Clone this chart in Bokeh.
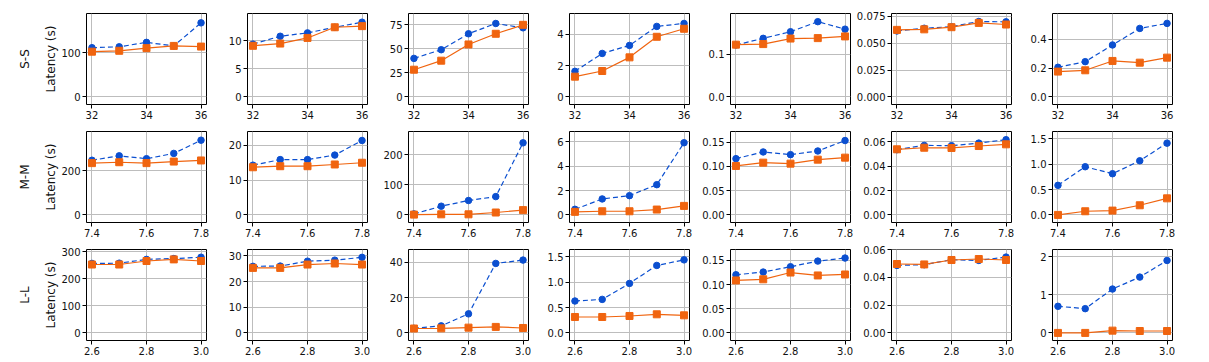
from bokeh.plotting import figure
from bokeh.layouts import gridplot
from bokeh.models import FixedTicker, Range1d, Title
from bokeh.embed import file_html
from bokeh.resources import INLINE

# ---------------- data ----------------
row_names = ["S-S", "M-M", "L-L"]
x_values = [[32, 33, 34, 35, 36], [7.4, 7.5, 7.6, 7.7, 7.8], [2.6, 2.7, 2.8, 2.9, 3.0]]
x_ticks = [[32, 34, 36], [7.4, 7.6, 7.8], [2.6, 2.8, 3.0]]
x_tick_labels = [["32", "34", "36"], ["7.4", "7.6", "7.8"], ["2.6", "2.8", "3.0"]]

blue_ss = [
    [111, 113, 123, 115, 167],
    [9.4, 10.8, 11.4, 12.4, 13.3],
    [40.1, 49.1, 65.7, 76.4, 71.9],
    [1.63, 2.77, 3.28, 4.49, 4.68],
    [0.122, 0.1375, 0.153, 0.1766, 0.159],
    [0.0615, 0.0640, 0.0655, 0.0703, 0.0700],
    [0.206, 0.245, 0.361, 0.476, 0.511],
]
orange_ss = [
    [102, 104, 110, 115, 113.5],
    [9.1, 9.5, 10.5, 12.4, 12.6],
    [28.3, 37.7, 54.6, 65.7, 75.0],
    [1.29, 1.65, 2.52, 3.83, 4.34],
    [0.1227, 0.124, 0.137, 0.138, 0.142],
    [0.0625, 0.0630, 0.0650, 0.0690, 0.0675],
    [0.176, 0.185, 0.250, 0.238, 0.273],
]
blue_mm = [
    [248, 268, 255, 279, 339],
    [14.3, 15.9, 15.9, 17.2, 21.4],
    [3.3, 29, 48, 61, 240],
    [0.46, 1.31, 1.58, 2.48, 5.92],
    [0.1158, 0.1295, 0.124, 0.1315, 0.153],
    [0.0536, 0.0571, 0.0569, 0.0590, 0.0618],
    [0.583, 0.95, 0.812, 1.067, 1.415],
]
orange_mm = [
    [235, 239, 235, 242, 247],
    [13.7, 14.0, 14.0, 14.5, 15.0],
    [1, 2, 2, 8, 16],
    [0.25, 0.30, 0.30, 0.44, 0.74],
    [0.1007, 0.1075, 0.1055, 0.1137, 0.1178],
    [0.0539, 0.0552, 0.0550, 0.0566, 0.0580],
    [0.0, 0.072, 0.085, 0.19, 0.327],
]
blue_ll = [
    [257, 258, 272, 275, 280],
    [25.9, 26.0, 27.9, 28.3, 29.4],
    [2.6, 4.0, 10.8, 39.4, 41.3],
    [0.629, 0.661, 0.976, 1.33, 1.44],
    [0.1204, 0.126, 0.137, 0.1487, 0.155],
    [0.0487, 0.0492, 0.0528, 0.0523, 0.0547],
    [0.699, 0.638, 1.153, 1.467, 1.904],
]
orange_ll = [
    [253, 253, 266, 272, 266],
    [25.3, 25.3, 26.6, 27.0, 26.6],
    [2.5, 2.6, 3.0, 3.4, 2.8],
    [0.314, 0.314, 0.334, 0.367, 0.347],
    [0.1087, 0.111, 0.125, 0.119, 0.121],
    [0.0497, 0.0494, 0.0526, 0.0533, 0.0526],
    [0.0, 0.0, 0.06, 0.05, 0.05],
]
blue_rows = [blue_ss, blue_mm, blue_ll]
orange_rows = [orange_ss, orange_mm, orange_ll]

y_ticks = [
    [[0, 100], [0, 5, 10], [0, 25, 50, 75], [0, 2, 4], [0.0, 0.1], [0.0, 0.025, 0.05, 0.075], [0.0, 0.2, 0.4]],
    [[0, 200], [0, 10, 20], [0, 100, 200], [0, 2, 4, 6], [0.0, 0.05, 0.1, 0.15], [0.0, 0.02, 0.04, 0.06], [0.0, 0.5, 1.0, 1.5]],
    [[0, 100, 200, 300], [0, 10, 20, 30], [0, 20, 40], [0.0, 0.5, 1.0, 1.5], [0.0, 0.05, 0.1, 0.15], [0.0, 0.02, 0.04, 0.06], [0, 1, 2]],
]
y_tick_labels = [
    [["0", "100"], ["0", "5", "10"], ["0", "25", "50", "75"], ["0", "2", "4"], ["0.0", "0.1"], ["0.000", "0.025", "0.050", "0.075"], ["0.0", "0.2", "0.4"]],
    [["0", "200"], ["0", "10", "20"], ["0", "100", "200"], ["0", "2", "4", "6"], ["0.00", "0.05", "0.10", "0.15"], ["0.00", "0.02", "0.04", "0.06"], ["0.0", "0.5", "1.0", "1.5"]],
    [["0", "100", "200", "300"], ["0", "10", "20", "30"], ["0", "20", "40"], ["0.0", "0.5", "1.0", "1.5"], ["0.00", "0.05", "0.10", "0.15"], ["0.00", "0.02", "0.04", "0.06"], ["0", "1", "2"]],
]
# upper data extent used for autoscaling each panel's y axis
y_extent = [
    [171, 13.5, 78.9, 4.83, 0.178, 0.0707, 0.527],
    [344, 21.8, 252.5, 6.22, 0.156, 0.0623, 1.495],
    [280.5, 29.5, 43, 1.495, 0.157, 0.0547, 1.993],
]

# ---------------- style ----------------
BLUE = "#0b4fd0"
ORANGE = "#f0640f"
FONT = "DejaVu Sans"
FRAME_W, FRAME_H = 120, 91
LEFT_FIRST, LEFT, RIGHT = 86, 38, 3
TOPS = [13, 5, 5]
BOTTOMS = [22, 22, 20]

rows = []
for r in range(3):
    row = []
    xs = x_values[r]
    span = xs[-1] - xs[0]
    for c in range(7):
        left = LEFT_FIRST if c == 0 else LEFT
        h = TOPS[r] + FRAME_H + BOTTOMS[r]
        w = left + FRAME_W + RIGHT
        D = y_extent[r][c]
        p = figure(width=w, height=h, output_backend="svg", toolbar_location=None,
                   min_border_left=left, min_border_right=RIGHT,
                   min_border_top=TOPS[r], min_border_bottom=BOTTOMS[r],
                   x_range=Range1d(xs[0] - 0.05 * span, xs[-1] + 0.05 * span),
                   y_range=Range1d(-0.1 * D, 1.1 * D))
        p.outline_line_color = "black"
        p.outline_line_width = 1
        p.outline_line_alpha = 1
        p.background_fill_color = "white"
        p.border_fill_color = "white"

        for ax in (p.xaxis[0], p.yaxis[0]):
            ax.axis_line_color = None
            ax.major_tick_in = 0
            ax.major_tick_out = 4
            ax.major_tick_line_color = "black"
            ax.minor_tick_line_color = None
            ax.major_label_text_font = FONT
            ax.major_label_text_font_size = "10px"
            ax.major_label_text_color = "#111111"
            ax.major_label_standoff = 2

        p.xaxis[0].ticker = FixedTicker(ticks=x_ticks[r])
        p.xaxis[0].major_label_overrides = {float(t): s for t, s in zip(x_ticks[r], x_tick_labels[r])}
        p.yaxis[0].ticker = FixedTicker(ticks=y_ticks[r][c])
        p.yaxis[0].major_label_overrides = {float(t): s for t, s in zip(y_ticks[r][c], y_tick_labels[r][c])}

        p.xgrid[0].ticker = FixedTicker(ticks=x_ticks[r])
        p.ygrid[0].ticker = FixedTicker(ticks=y_ticks[r][c])
        for g in (p.xgrid[0], p.ygrid[0]):
            g.grid_line_color = "#bdbdbd"
            g.grid_line_width = 1

        if c == 0:
            p.yaxis[0].axis_label = "Latency (s)"
            p.yaxis[0].axis_label_text_font = FONT
            p.yaxis[0].axis_label_text_font_size = "12px"
            p.yaxis[0].axis_label_text_font_style = "normal"
            p.yaxis[0].axis_label_text_color = "#111111"
            p.yaxis[0].axis_label_standoff = 0
            t = Title(text=row_names[r], align="center", text_font=FONT,
                      text_font_size="12px", text_font_style="normal",
                      text_color="#111111", standoff=19)
            p.add_layout(t, "left")

        b = blue_rows[r][c]
        o = orange_rows[r][c]
        p.line(xs, b, line_color=BLUE, line_width=1.2, line_dash="5 3")
        p.scatter(xs, b, marker="circle", size=6.5, fill_color=BLUE, line_color=BLUE)
        p.line(xs, o, line_color=ORANGE, line_width=1.2)
        p.scatter(xs, o, marker="square", size=7, fill_color=ORANGE, line_color=ORANGE)
        row.append(p)
    rows.append(row)

grid = gridplot(rows, toolbar_location=None)
open("out.html", "w").write(file_html(grid, INLINE))
